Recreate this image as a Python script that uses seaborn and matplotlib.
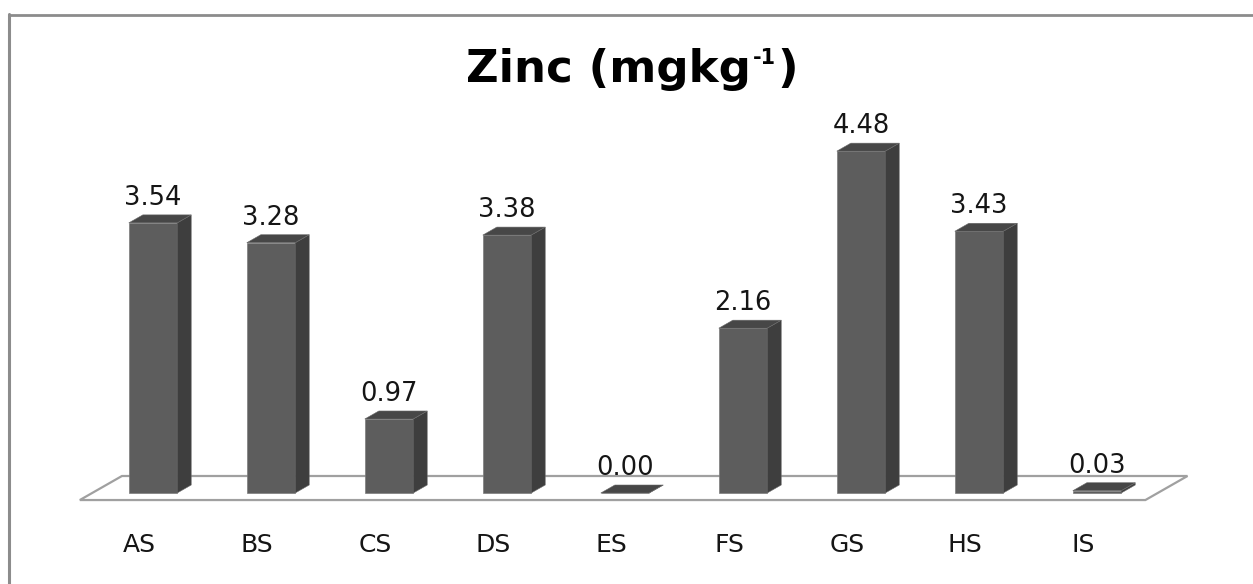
import matplotlib
matplotlib.use("Agg")
import matplotlib.pyplot as plt
from matplotlib.patches import Polygon
from matplotlib.lines import Line2D
import seaborn as sns

# Zinc content per sample
categories = ["AS", "BS", "CS", "DS", "ES", "FS", "GS", "HS", "IS"]
zinc = [3.54, 3.28, 0.97, 3.38, 0.00, 2.16, 4.48, 3.43, 0.03]
title_parts = ["Zinc (mgkg", "-1", ")"]

sns.set_theme(style="white")
plt.rcParams["font.family"] = ["DejaVu Sans"]

W, H = 1253, 584
fig = plt.figure(figsize=(W / 100, H / 100), dpi=100, facecolor="white")

# axes placed so that one category step and one value unit have fixed pixel sizes
ax = fig.add_axes([0.0411, 0.0382, 0.9088, 0.8493])

FRONT = "#5d5d5d"
SIDE = "#3e3e3e"
TOP = "#474747"
DX, DY = 0.119, 0.105  # depth offset of the 3-D extrusion (data units)

sns.barplot(x=categories, y=zinc, color=FRONT, saturation=1, width=0.41,
            edgecolor="#7c7c7c", linewidth=0.5, ax=ax, zorder=2)
ax.set_xlim(-0.86, 8.79)
ax.set_ylim(-0.9, 5.6)
ax.axis("off")

# floor of the 3-D plot
fy0 = -0.092
fx0, fx1 = -0.62, 8.41
floor = Polygon([(fx0, fy0), (fx1, fy0), (fx1 + 3 * DX, fy0 + 3 * DY),
                 (fx0 + 3 * DX, fy0 + 3 * DY)], closed=True,
                facecolor="white", edgecolor="#a0a0a0", linewidth=1.6, zorder=0.5)
ax.add_patch(floor)

for bar, val in zip(ax.containers[0], zinc):
    x0 = bar.get_x()
    x1 = x0 + bar.get_width()
    h = bar.get_height()
    side = Polygon([(x1, 0), (x1 + DX, DY), (x1 + DX, h + DY), (x1, h)],
                   closed=True, facecolor=SIDE, edgecolor="#6a6a6a",
                   linewidth=0.4, zorder=2)
    top = Polygon([(x0, h), (x1, h), (x1 + DX, h + DY), (x0 + DX, h + DY)],
                  closed=True, facecolor=TOP, edgecolor="#6a6a6a",
                  linewidth=0.4, zorder=2)
    ax.add_patch(side)
    ax.add_patch(top)
    cx = x0 + bar.get_width() / 2
    ax.annotate(f"{val:.2f}", xy=(cx, h + DY), xytext=(0, 10),
                textcoords="offset pixels", ha="center", va="baseline",
                fontsize=18.5, color="#151515", zorder=3)

for i, cat in enumerate(categories):
    ax.text(i - DX, -0.769, cat, ha="center", va="baseline",
            fontsize=18, color="#151515")

# title: main text, small raised "-1", closing parenthesis
renderer = fig.canvas.get_renderer()
base_y = 1 - 82 / H
sizes = [32.5, 15, 32.5]
raise_px = [0, 18, 0]
pieces = []
for txt, fs, rp in zip(title_parts, sizes, raise_px):
    t = fig.text(0, base_y + rp / H, txt, ha="left", va="baseline",
                 fontsize=fs, fontweight="bold", color="black")
    pieces.append(t)
widths = [p.get_window_extent(renderer).width for p in pieces]
gaps = [0, 2, 2]
total = sum(widths) + sum(gaps)
x = 632 - total / 2
for p, w, g in zip(pieces, widths, gaps):
    x += g
    p.set_x(x / W)
    x += w

# chart area frame (top and left edges)
fig.add_artist(Line2D([8.5 / W, 1.0], [1 - 14.5 / H, 1 - 14.5 / H],
                      transform=fig.transFigure, color="#8c8c8c", linewidth=2))
fig.add_artist(Line2D([9 / W, 9 / W], [0.0, 1 - 13.5 / H],
                      transform=fig.transFigure, color="#8c8c8c", linewidth=2.2))

fig.savefig("out.png", dpi=100, facecolor="white")
